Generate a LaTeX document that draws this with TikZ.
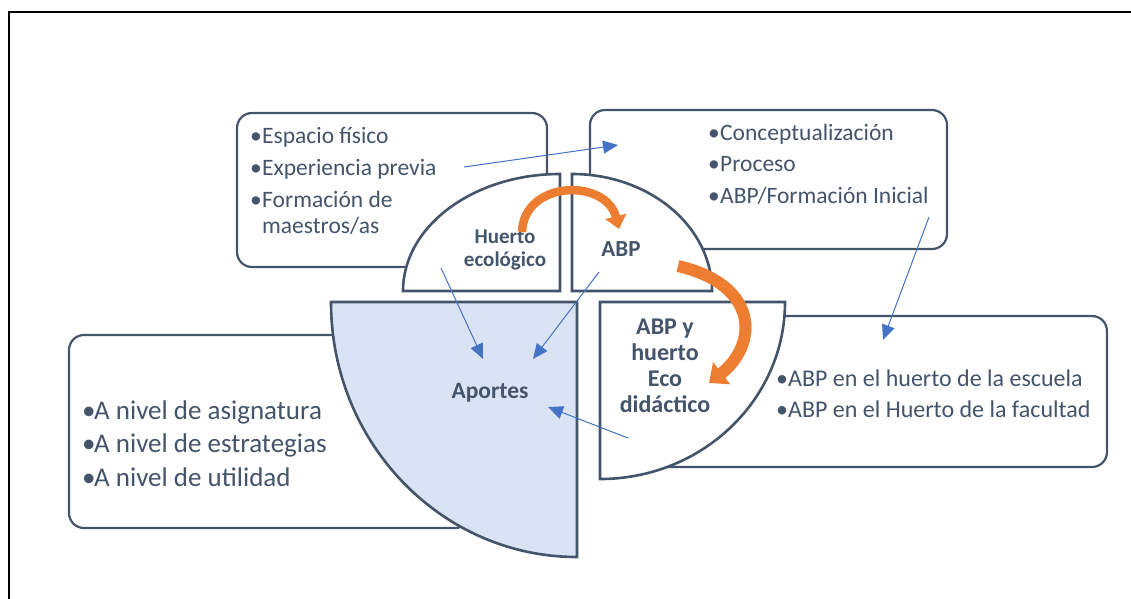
\documentclass[tikz,border=0pt]{standalone}
\usepackage{fontspec}
\setmainfont{Carlito}
\usetikzlibrary{arrows.meta}
\definecolor{slate}{HTML}{44546A}
\definecolor{orangeacc}{HTML}{ED7D31}
\definecolor{linkblue}{HTML}{4472C4}
\definecolor{paleblue}{HTML}{DAE3F3}
\colorlet{box edge}{slate}
\tikzset{
  textbox/.style={draw=box edge, line width=2.2pt, rounded corners=15pt, fill=white},
  piece/.style={draw=box edge, line width=2.6pt, fill=white},
  item/.style={anchor=base west, inner sep=0pt, text=slate, font=\fontsize{23.5}{27}\selectfont},
  biglabel/.style={inner sep=0pt, text=slate, align=center, font=\bfseries\fontsize{21}{23.5}\selectfont}
  }
\tikzstyle{link} = [draw=linkblue, line width=1pt, -{Triangle[length=15pt,width=13pt]}]
\tikzstyle{turn} = [draw=orangeacc, -{Triangle[length=13pt,width=21pt]}]
\newcommand{\bul}{\makebox[12pt][l]{•}}

\begin{document}
\begin{tikzpicture}[x=1pt,y=-1pt]
    \useasboundingbox (0,0) rectangle (1131,598);
    \draw[black, line width=1.6pt] (9,640) -- (9,12) -- (1160,12);

    % text boxes
    \draw[textbox] (237,113) rectangle (547,267);
    \draw[textbox] (590,110) rectangle (947,249);
    \draw[textbox] (620,316) rectangle (1107,467);
    \draw[textbox] (69,335) rectangle (470,528);

    % the four pieces
    \draw[piece] (560,174) -- (560,291) -- (403,291)
        arc[start angle=180, end angle=270, x radius=157, y radius=117] -- cycle;
    \draw[piece] (572,174) -- (572,291) -- (712,291)
        arc[start angle=0, end angle=-90, x radius=140, y radius=117] -- cycle;
    \draw[piece] (600,479) -- (600,302) -- (785,302)
        arc[start angle=0, end angle=90, x radius=185, y radius=177] -- cycle;
    \draw[piece, fill=paleblue] (331,302) -- (577,302) -- (577,557)
        arc[start angle=90, end angle=180, x radius=246, y radius=255] -- cycle;

    % bullet texts
    \foreach \y/\t [count=\i] in {143/Espacio físico, 175/Experiencia previa, 207/Formación de}
      \node[item] (tl\i) at (250,\y) {\bul\t};
    \node[item] (tl4) at (262,233) {maestros/as};
    \foreach \y/\t [count=\i] in {140/Conceptualización, 171/Proceso, 203/{ABP/Formación Inicial}}
      \node[item] (tr\i) at (708,\y) {\bul\t};
    \foreach \y/\t [count=\i] in {386/ABP en el huerto de la escuela, 417/ABP en el Huerto de la facultad}
      \node[item, font=\fontsize{24}{28}\selectfont] (rb\i) at (776,\y) {\bul\t};
    \foreach \y/\t [count=\i] in {419/A nivel de asignatura, 452/A nivel de estrategias, 486/A nivel de utilidad}
      \node[item, font=\fontsize{27}{31}\selectfont] (lb\i) at (82,\y) {\bul\t};

    % piece labels
    \node[biglabel] (huerto) at (505,250) {Huerto\\ecológico};
    \node[biglabel, font=\bfseries\fontsize{23}{26}\selectfont] (abp) at (621,249) {ABP};
    \node[biglabel, font=\bfseries\fontsize{24}{26}\selectfont] (abpy) at (665,366) {ABP y\\huerto\\Eco\\didáctico};
    \node[biglabel, font=\bfseries\fontsize{23.5}{27}\selectfont] (aportes) at (490,393) {Aportes};

    % orange cycle arrows
    \draw[turn, line width=8.5pt] (522,232) .. controls (524,180) and (606,178) .. (619,229);
    \draw[turn, line width=12pt, -{Triangle[length=16pt,width=27pt]}] (678,266) .. controls (760,285) and (758,345) .. (709,383);

    % blue links
    \coordinate (prev) at (464,167);   \coordinate (prevtip) at (618,145);
    \coordinate (hue) at (441,268);    \coordinate (huetip) at (483,359);
    \coordinate (abpo) at (599,272);   \coordinate (abptip) at (533,359);
    \coordinate (eco) at (628,438);    \coordinate (ecotip) at (548,407);
    \coordinate (ini) at (929,217);    \coordinate (initip) at (883,340);
    \foreach \a/\b in {prev/prevtip, hue/huetip, abpo/abptip, eco/ecotip, ini/initip}
      \path[link] (\a) -- (\b);
\end{tikzpicture}
\end{document}
